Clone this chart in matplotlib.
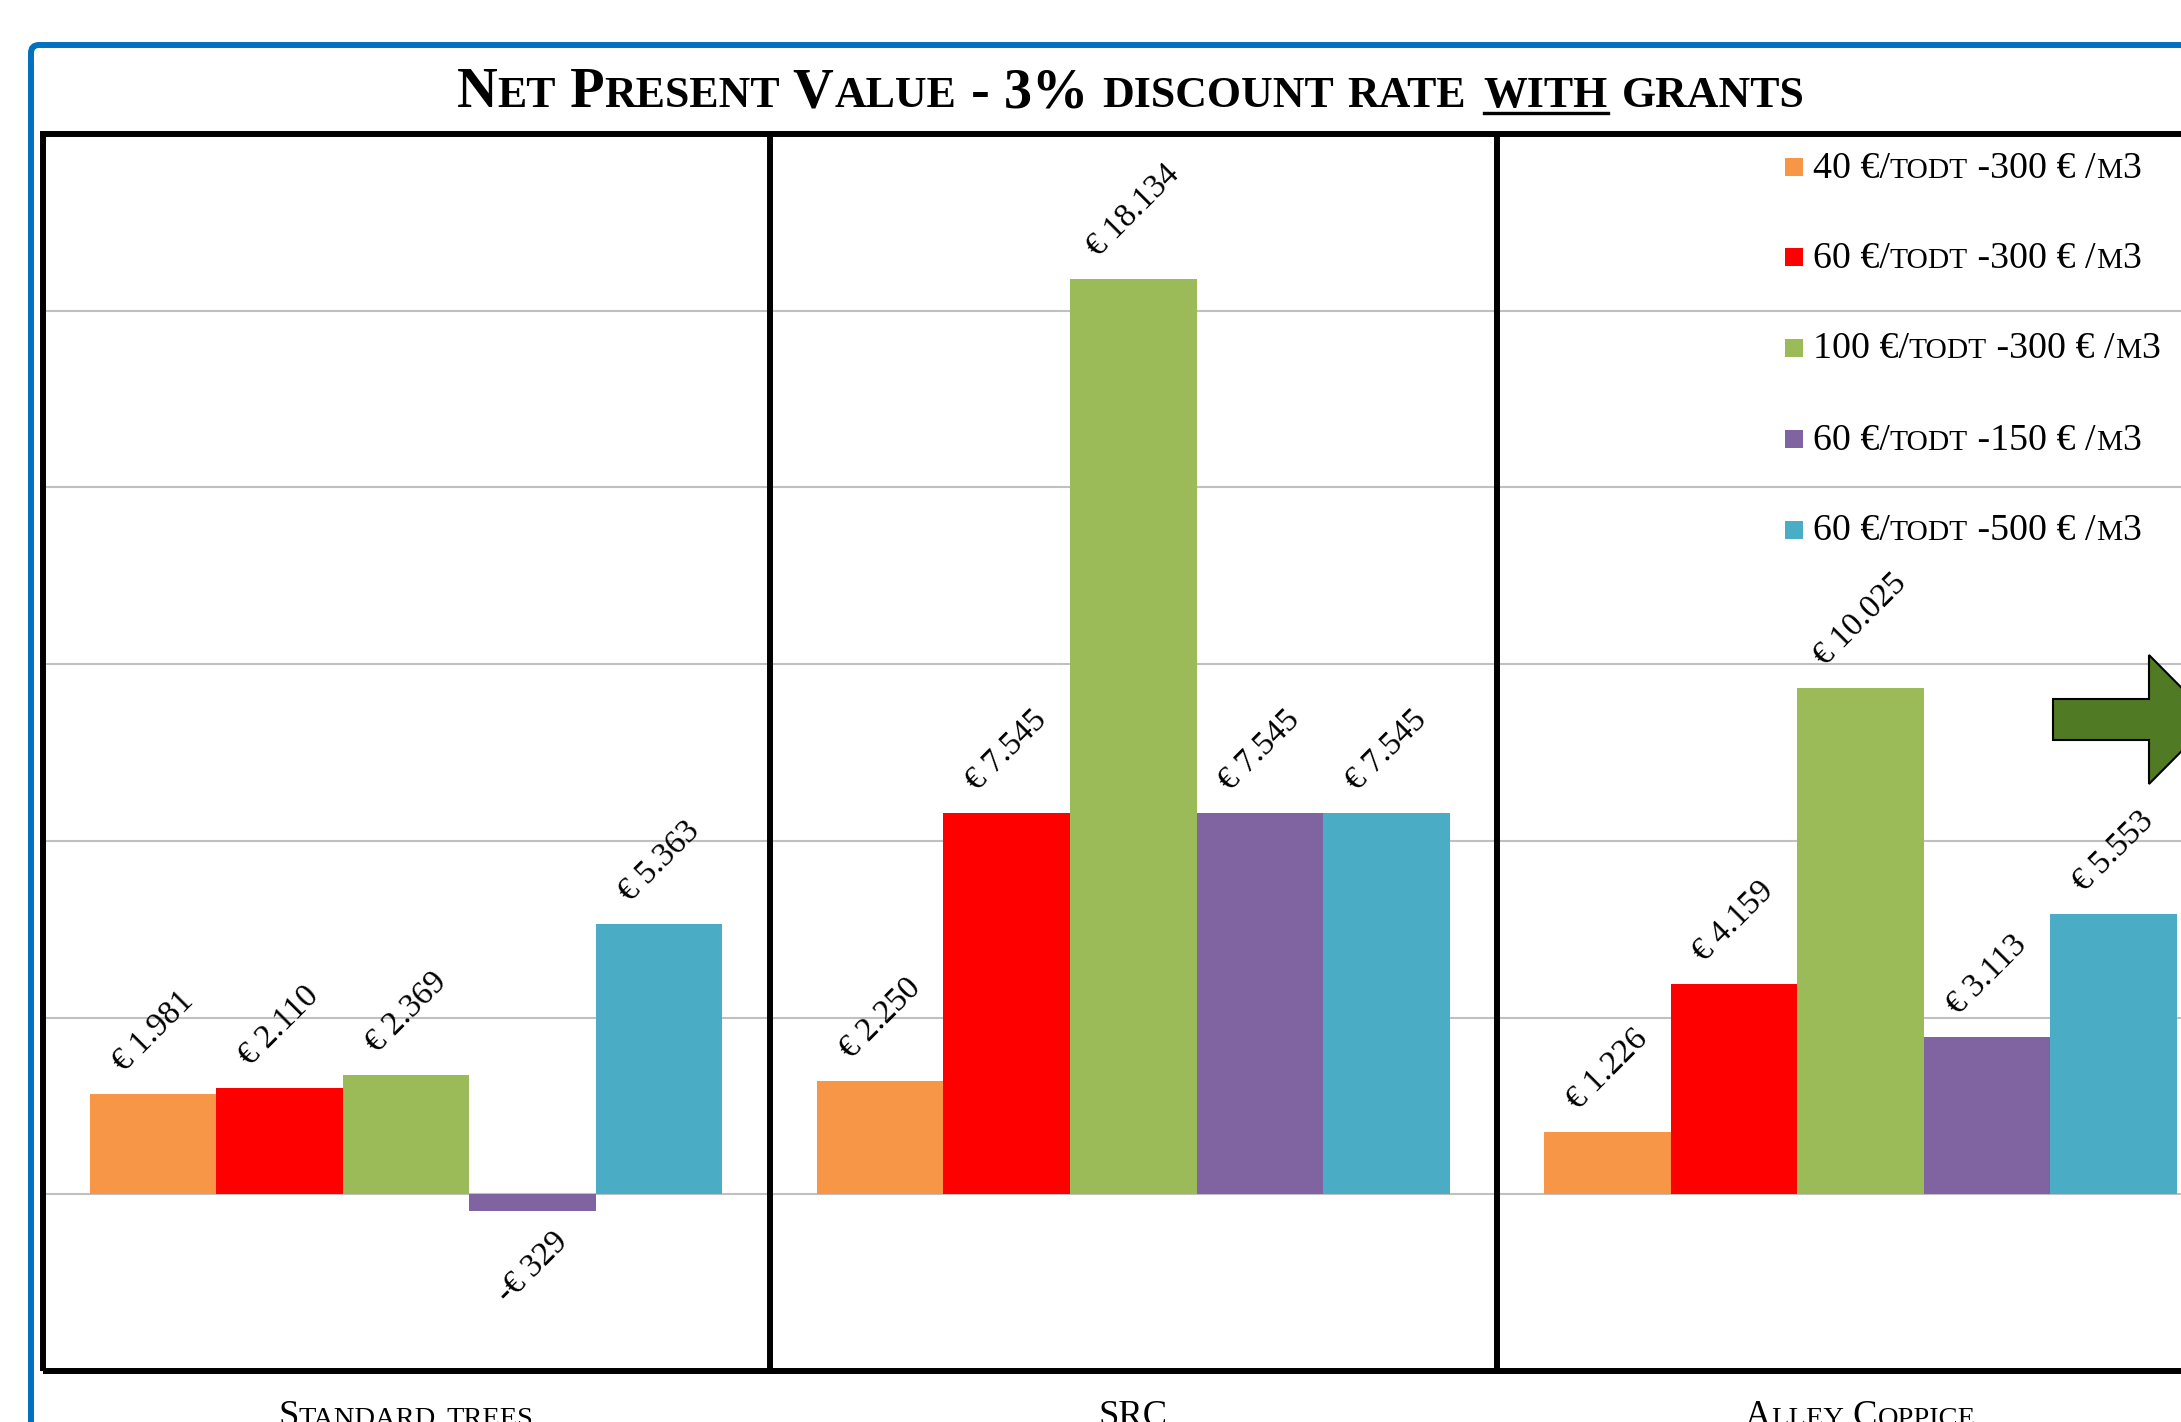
import numpy as np
import matplotlib
matplotlib.use("Agg")
import matplotlib.pyplot as plt
from matplotlib import ft2font
from matplotlib.font_manager import findfont, FontProperties
from matplotlib.patches import Rectangle, FancyBboxPatch, Polygon
from matplotlib.transforms import IdentityTransform
from matplotlib.lines import Line2D

W, H, DPI = 2181, 1422, 100

# ---- data -------------------------------------------------------------
categories = ["Standard trees", "SRC", "Alley Coppice"]
scenarios = [
    "40 €/todt -300 € /m3",
    "60 €/todt -300 € /m3",
    "100 €/todt -300 € /m3",
    "60 €/todt -150 € /m3",
    "60 €/todt -500 € /m3",
]
npv_40_300 = [1981, 2250, 1226]
npv_60_300 = [2110, 7545, 4159]
npv_100_300 = [2369, 18134, 10025]
npv_60_150 = [-329, 7545, 3113]
npv_60_500 = [5363, 7545, 5553]
series = [npv_40_300, npv_60_300, npv_100_300, npv_60_150, npv_60_500]
colors = ["#F79646", "#FF0000", "#9BBB59", "#8064A2", "#4BACC6"]

title_parts = [("Net Present Value - 3% discount rate ", False),
               ("with", True),
               (" grants", False)]

# ---- text helpers (small caps built from two sizes) -------------------
SERIF = "Liberation Serif"
SC_RATIO = 0.78

fig = plt.figure(figsize=(W / DPI, H / DPI), dpi=DPI)
fig.patch.set_facecolor("white")
PIX = IdentityTransform()

NOHINT = (ft2font.LoadFlags.NO_HINTING if hasattr(ft2font, "LoadFlags")
          else ft2font.LOAD_NO_HINTING)
_fonts = {}


def _font(weight):
    if weight not in _fonts:
        path = findfont(FontProperties(family=SERIF, weight=weight))
        _fonts[weight] = ft2font.FT2Font(path)
    return _fonts[weight]


def advance(s, size, weight="normal"):
    f = _font(weight)
    f.set_size(size, DPI)
    return sum(f.load_char(ord(c), flags=NOHINT).linearHoriAdvance
               for c in s) / 65536.0


def sc_runs(text, big):
    runs = []
    for ch in text:
        size = big * SC_RATIO if ch.islower() else big
        if runs and runs[-1][1] == size:
            runs[-1][0] += ch.upper()
        else:
            runs.append([ch.upper(), size])
    return runs


def layout(parts, big, weight):
    runs = []
    for text, ul in parts:
        for s, size in sc_runs(text, big):
            runs.append((s, size, ul))
    widths = [advance(s, size, weight) for s, size, _ in runs]
    return runs, widths


def fit_size(parts, target_px, weight="normal"):
    _, widths = layout(parts, 40.0, weight)
    return 40.0 * target_px / sum(widths)


def draw_smallcaps(parts, x, y_img, big, weight="normal", align="center"):
    runs, widths = layout(parts, big, weight)
    total = sum(widths)
    pen = x - total / 2 if align == "center" else x
    yb = H - y_img
    spans = []
    for (s, size, ul), w in zip(runs, widths):
        fig.text(pen, yb, s, transform=PIX, fontsize=size, family=SERIF,
                 weight=weight, ha="left", va="baseline", color="black")
        if ul:
            spans.append((pen, pen + w))
        pen += w
    if spans:
        em = big * DPI / 72.0
        yu = yb - 0.11 * em
        fig.add_artist(Line2D([min(a for a, _ in spans), max(b for _, b in spans)],
                              [yu, yu], transform=PIX, color="black",
                              lw=0.06 * em * 72 / DPI))


# ---- outer frame --------------------------------------------------------
fig.add_artist(FancyBboxPatch((31, H - 1700), 2500, 1700 - 45,
                              boxstyle="round,pad=0,rounding_size=8",
                              transform=PIX, fill=False, ec="#0070C0",
                              lw=4.3, zorder=0))

# ---- plot area ------------------------------------------------------------
left_px, right_px, top_px, bottom_px = 42.5, 2224.0, 134.0, 1371.0
ax = fig.add_axes([left_px / W, 1 - bottom_px / H,
                   (right_px - left_px) / W, (bottom_px - top_px) / H])
ax.set_xlim(-0.5, len(categories) - 0.5)
ax.set_ylim(-3500, 21000)
ax.set_yticks(np.arange(0, 21000, 3500))
ax.set_xticks([])
ax.tick_params(axis="y", length=0, labelleft=False)
ax.yaxis.grid(True, color="#C0C0C0", lw=1.5)
ax.set_axisbelow(True)
for sp in ax.spines.values():
    sp.set_visible(False)

x = np.arange(len(categories))
bw = 0.174
for i, (vals, col) in enumerate(zip(series, colors)):
    xs = x + (i - 2) * bw
    ax.bar(xs, vals, bw, color=col, linewidth=0, zorder=2)
    for xv, v in zip(xs, vals):
        txt = ("-€ " if v < 0 else "€ ") + f"{abs(v):,}".replace(",", ".")
        ax.annotate(txt, xy=(xv, v), xytext=(0, 11.5 if v >= 0 else -11.5),
                    textcoords="offset points", rotation=45, ha="center",
                    va="bottom" if v >= 0 else "top", fontsize=24,
                    family=SERIF, color="black", zorder=4)

# panel dividers and frame
for b in np.arange(0.5, len(categories) - 0.5, 1.0):
    ax.axvline(b, color="black", lw=4.3, zorder=5)
ax.add_patch(Rectangle((0, 0), 1, 1, transform=ax.transAxes, fill=False,
                       ec="black", lw=4.3, joinstyle="miter", clip_on=False,
                       zorder=6))

# ---- title ----------------------------------------------------------------
t_size = fit_size(title_parts, 1348, "bold")
draw_smallcaps(title_parts, 1131, 107, t_size, weight="bold")

# ---- legend ---------------------------------------------------------------
leg_rows = [167, 257, 348, 439, 530]
leg_size = fit_size([(scenarios[0], False)], 328)
for name, col, yc in zip(scenarios, colors, leg_rows):
    fig.add_artist(Rectangle((1785, H - (yc + 9)), 18, 18, transform=PIX,
                             fc=col, ec="none"))
    draw_smallcaps([(name, False)], 1813, yc + 10.5, leg_size, align="left")

# ---- category labels --------------------------------------------------------
cat_size = fit_size([(categories[0], False)], 256)
for i, cat in enumerate(categories):
    xc = ax.transData.transform((i, 0))[0]
    draw_smallcaps([(cat, False)], xc, 1426, cat_size)

# ---- arrow shape on the right ---------------------------------------------
arrow_pts = [(2053, 699), (2149, 699), (2149, 655), (2213, 719.5),
             (2149, 784), (2149, 740), (2053, 740)]
fig.add_artist(Polygon([(px, H - py) for px, py in arrow_pts], closed=True,
                       transform=PIX, fc="#507A23", ec="black", lw=1.5,
                       zorder=10))

fig.savefig("out.png", dpi=DPI, facecolor="white")
